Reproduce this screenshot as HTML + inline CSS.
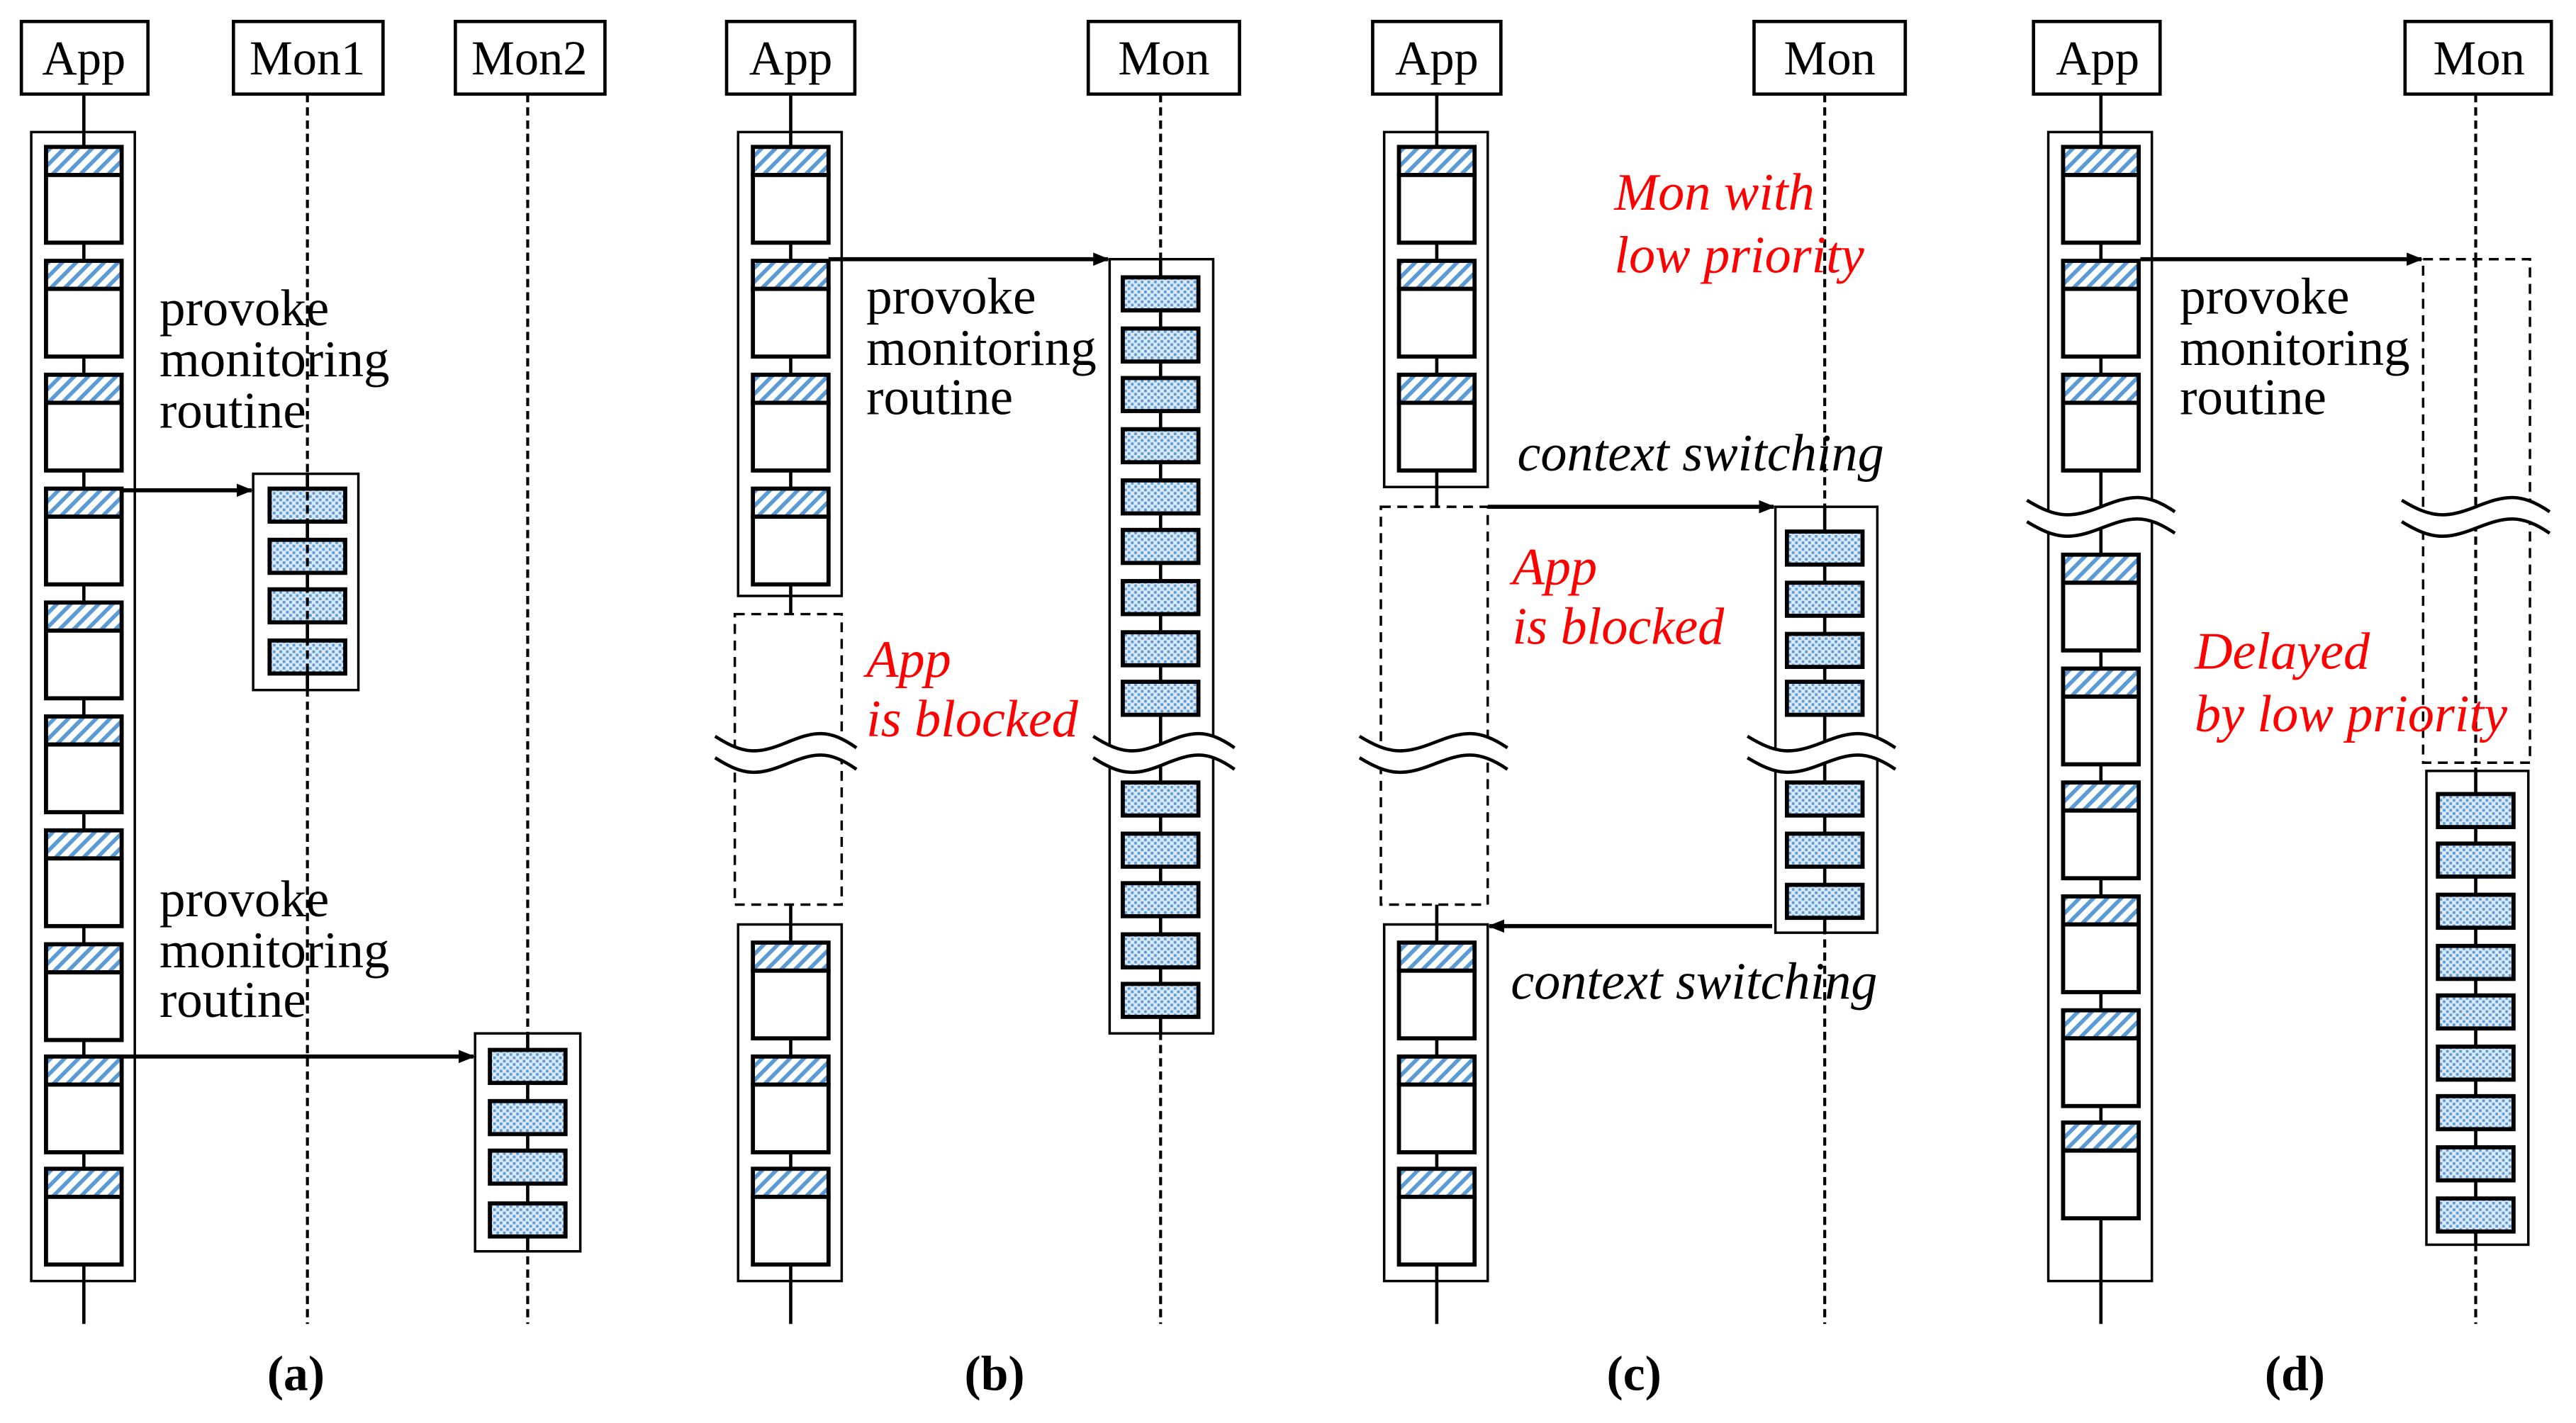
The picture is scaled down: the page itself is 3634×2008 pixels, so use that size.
<!DOCTYPE html>
<html><head><meta charset="utf-8">
<style>
html,body{margin:0;padding:0;background:#fff;}
svg{display:block;}
text{font-family:"Liberation Serif","DejaVu Serif",serif;}
</style></head>
<body>
<svg id="s" width="3634" height="2008" viewBox="0 0 1567 862" preserveAspectRatio="none" xmlns="http://www.w3.org/2000/svg">
<defs>
<pattern id="hatch" width="6" height="6" patternUnits="userSpaceOnUse" patternTransform="rotate(45)">
<rect width="6" height="6" fill="#fff"/><rect width="2.4" height="6" fill="#5b9bd5"/>
</pattern>
<pattern id="dots" width="4" height="4" patternUnits="userSpaceOnUse">
<rect width="4" height="4" fill="#dbe9f7"/><rect x="0" y="0" width="1.6" height="1.6" fill="#5b9bd5"/><rect x="2" y="2" width="1.6" height="1.6" fill="#5b9bd5"/>
</pattern>
<marker id="ar" markerWidth="10" markerHeight="8" refX="9" refY="4" orient="auto" markerUnits="userSpaceOnUse">
<path d="M0,0 L10,4 L0,8 Z" fill="#000"/>
</marker>
</defs>
<g id="g"></g>
<g font-family="Liberation Serif, serif" font-size="29.5" fill="#000">
<text x="51" y="45" text-anchor="middle">App</text>
<text x="187" y="45" text-anchor="middle">Mon1</text>
<text x="322" y="45" text-anchor="middle">Mon2</text>
<text x="481" y="45" text-anchor="middle">App</text>
<text x="708" y="45" text-anchor="middle">Mon</text>
<text x="874" y="45" text-anchor="middle">App</text>
<text x="1113" y="45" text-anchor="middle">Mon</text>
<text x="1276" y="45" text-anchor="middle">App</text>
<text x="1508" y="45" text-anchor="middle">Mon</text>
</g>
<g font-family="Liberation Serif, serif" font-size="31.5" fill="#000">
<text x="97" y="197">provoke</text><text x="97" y="228">monitoring</text><text x="97" y="259">routine</text>
<text x="97" y="555">provoke</text><text x="97" y="586">monitoring</text><text x="97" y="616">routine</text>
<text x="527" y="190">provoke</text><text x="527" y="221">monitoring</text><text x="527" y="251">routine</text>
<text x="1326" y="190">provoke</text><text x="1326" y="221">monitoring</text><text x="1326" y="251">routine</text>
</g>
<g font-family="Liberation Serif, serif" font-size="32" font-style="italic" fill="#ff0000">
<text x="982" y="127">Mon with</text><text x="982" y="165">low priority</text>
<text x="527" y="410">App</text><text x="527" y="446">is blocked</text>
<text x="920" y="354">App</text><text x="920" y="390">is blocked</text>
<text x="1335" y="405">Delayed</text><text x="1335" y="443">by low priority</text>
</g>
<g font-family="Liberation Serif, serif" font-size="32" font-style="italic" fill="#000">
<text x="923" y="285">context switching</text>
<text x="919" y="605">context switching</text>
</g>
<g font-family="Liberation Serif, serif" font-size="30" font-weight="bold" fill="#000" text-anchor="middle">
<text x="180" y="842">(a)</text><text x="605" y="842">(b)</text><text x="994" y="842">(c)</text><text x="1396" y="842">(d)</text>
</g>
</svg>
<script>
var g=document.getElementById('g'),h='';
function R(x,y,w,hh,f,sw,dash){h+='<rect x="'+x+'" y="'+y+'" width="'+w+'" height="'+hh+'" fill="'+(f||'none')+'" stroke="#000" stroke-width="'+(sw||1.5)+'"'+(dash?' stroke-dasharray="6,4"':'')+'/>';}
function L(x1,y1,x2,y2,sw,dash,mk){h+='<line x1="'+x1+'" y1="'+y1+'" x2="'+x2+'" y2="'+y2+'" stroke="#000" stroke-width="'+(sw||2)+'"'+(dash?' stroke-dasharray="5,3"':'')+(mk?' marker-end="url(#ar)"':'')+'/>';}
function hdr(x1,x2){R(x1,13,x2-x1,44,'#fff',2);}
function ab(cx,y){R(cx-23,y,46,17,'url(#hatch)',2.5);R(cx-23,y+17,46,41,'#fff',2.5);}
function mb(cx,y){R(cx-23,y,46,20,'url(#dots)',2.5);}
function wave(cx,y,w){var x0=cx-w/2,x1=cx+w/2;
 var d=function(o){return 'M'+x0+','+(y-9+o)+' C'+(x0+w*0.2)+','+(y+2+o)+' '+(x0+w*0.3)+','+(y+2+o)+' '+cx+','+(y-5+o)+' S'+(x1-w*0.2)+','+(y-14+o)+' '+x1+','+(y-2+o);};
 h+='<path d="'+d(0)+' L'+x1+','+(y+11)+' C'+(x1-w*0.2)+','+(y-1)+' '+(cx+w*0.2)+','+(y-1)+' '+cx+','+(y+8)+' S'+(x0+w*0.2)+','+(y+15)+' '+x0+','+(y+4)+' Z" fill="#fff" stroke="none"/>';
 h+='<path d="'+d(0)+'" fill="none" stroke="#000" stroke-width="2"/>';
 h+='<path d="'+d(13)+'" fill="none" stroke="#000" stroke-width="2"/>';}
// (a)
hdr(13,90);hdr(142,233);hdr(277,368);
L(51,57,51,802,2);L(187,57,187,802,1.8,1);L(321,57,321,802,1.8,1);
R(19,80,63,696,'#fff');L(51,80,51,776,2);
[89,158,227,296,365,434,503,572,640,708].forEach(function(y){ab(51,y);});
R(154,287,64,131,'#fff');L(187,287,187,418,2);[296,327,357,388].forEach(function(y){mb(187,y);});
L(187,290,187,418,1.8,1);
R(289,626,64,132,'#fff');L(321,626,321,758,2);[636,667,697,729].forEach(function(y){mb(321,y);});
L(74,297,153,297,2.5,0,1);L(74,640,288,640,2.5,0,1);
// (b)
hdr(442,520);hdr(662,754);
L(481,57,481,802,2);L(706,57,706,802,1.8,1);
R(449,80,63,281,'#fff');L(481,80,481,361,2);[89,158,227,296].forEach(function(y){ab(481,y);});
R(447,372,65,176,'#fff',1.5,1);
R(449,560,63,216,'#fff');L(481,560,481,776,2);[571,640,708].forEach(function(y){ab(481,y);});
R(675,157,63,469,'#fff');L(706,157,706,626,2);
[168,199,229,260,291,321,352,383,413,474,505,535,566,596].forEach(function(y){mb(706,y);});
L(504,157,674,157,2.5,0,1);
wave(478,455,86);wave(708,455,86);
// (c)
hdr(835,913);hdr(1067,1159);
L(874,57,874,802,2);L(1110,57,1110,802,1.8,1);
R(842,80,63,215,'#fff');L(874,80,874,295,2);[89,158,227].forEach(function(y){ab(874,y);});
R(840,307,65,241,'#fff',1.5,1);
R(842,560,63,216,'#fff');L(874,560,874,776,2);[571,640,708].forEach(function(y){ab(874,y);});
R(1080,307,62,258,'#fff');L(1110,307,1110,565,2);
[322,353,384,413,474,505,536].forEach(function(y){mb(1110,y);});
L(905,307,1079,307,2.5,0,1);L(1078,561,906,561,2.5,0,1);
wave(872,455,90);wave(1108,455,90);
// (d)
hdr(1237,1314);hdr(1463,1552);
L(1278,57,1278,802,2);L(1506,57,1506,802,1.8,1);
R(1246,80,63,696,'#fff');L(1278,80,1278,776,2);
[89,158,227,336,405,474,543,612,680].forEach(function(y){ab(1278,y);});
R(1474,157,65,305,'#fff',1.5,1);L(1506,157,1506,462,1.8,1);
R(1476,467,62,287,'#fff');L(1506,467,1506,754,2);
[481,511,542,573,603,634,664,695,726].forEach(function(y){mb(1506,y);});
L(1302,157,1473,157,2.5,0,1);
wave(1278,312,90);wave(1506,312,90);
g.innerHTML=h;
</script>
</body></html>
